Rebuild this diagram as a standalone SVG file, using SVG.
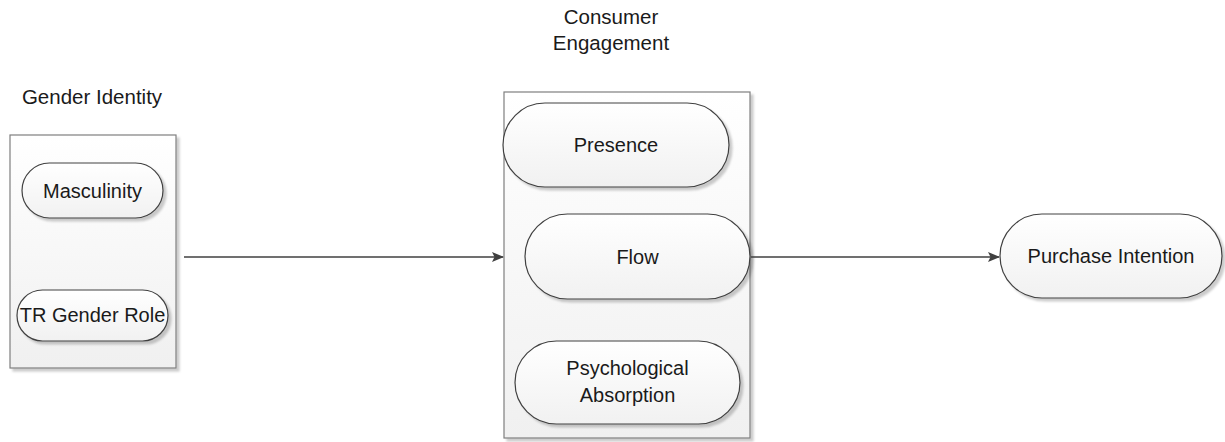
<svg xmlns="http://www.w3.org/2000/svg" width="1225" height="442" viewBox="0 0 1225 442">
<style>
text{font-family:"Liberation Sans",Arial,sans-serif;font-size:20px;fill:#1a1a1a;text-anchor:middle}
.lbl{font-size:20.5px}
.box{fill:url(#gbox);stroke:#7f7f7f;stroke-width:1.2}
.pill{fill:url(#gpill);stroke:#404040;stroke-width:1.2}
.conn{stroke:#404040;stroke-width:1.6;fill:none}
</style>
<defs>
<linearGradient id="gbox" x1="0" y1="0" x2="0" y2="1"><stop offset="0" stop-color="#ffffff"/><stop offset="1" stop-color="#f0f0f0"/></linearGradient>
<linearGradient id="gpill" x1="0" y1="0" x2="0" y2="1"><stop offset="0" stop-color="#ffffff"/><stop offset="1" stop-color="#f1f1f1"/></linearGradient>
<filter id="sh" x="-10%" y="-10%" width="125%" height="125%"><feDropShadow dx="3" dy="3" stdDeviation="1.2" flood-color="#000" flood-opacity="0.2"/></filter>
<marker id="arr" markerWidth="12" markerHeight="10" refX="11" refY="5" orient="auto" markerUnits="userSpaceOnUse"><path d="M0,0 L12,5 L0,10 L2.5,5 Z" fill="#404040"/></marker>
</defs>
<g id="gender-identity">
<text class="lbl" x="92" y="104">Gender Identity</text>
<rect class="box" x="10" y="135" width="166" height="233" filter="url(#sh)"/>
</g>
<g id="masculinity">
<rect class="pill" x="22" y="163" width="141" height="55" rx="27.5" filter="url(#sh)"/>
<text x="92.5" y="198">Masculinity</text>
</g>
<g id="tr-gender-role">
<rect class="pill" x="17" y="290" width="151" height="51" rx="25.5" filter="url(#sh)"/>
<text x="92.5" y="322">TR Gender Role</text>
</g>
<g id="consumer-engagement">
<text class="lbl" x="611" y="24">Consumer</text>
<text class="lbl" x="611" y="50">Engagement</text>
<rect class="box" x="504" y="92" width="246" height="346" filter="url(#sh)"/>
</g>
<g id="presence">
<rect class="pill" x="503" y="103" width="226" height="84" rx="42" filter="url(#sh)"/>
<text x="616" y="152">Presence</text>
</g>
<g id="flow">
<rect class="pill" x="525" y="214" width="225" height="85" rx="42.5" filter="url(#sh)"/>
<text x="637.5" y="264">Flow</text>
</g>
<g id="psychological-absorption">
<rect class="pill" x="515" y="341" width="225" height="83" rx="41.5" filter="url(#sh)"/>
<text x="627.5" y="375">Psychological</text>
<text x="627.5" y="402">Absorption</text>
</g>
<g id="purchase-intention">
<rect class="pill" x="1000" y="214" width="222" height="84" rx="42" filter="url(#sh)"/>
<text x="1111" y="263">Purchase Intention</text>
</g>
<g id="connectors">
<line class="conn" x1="184" y1="257" x2="503" y2="257" marker-end="url(#arr)"/>
<line class="conn" x1="751" y1="257" x2="999" y2="257" marker-end="url(#arr)"/>
</g>
</svg>
